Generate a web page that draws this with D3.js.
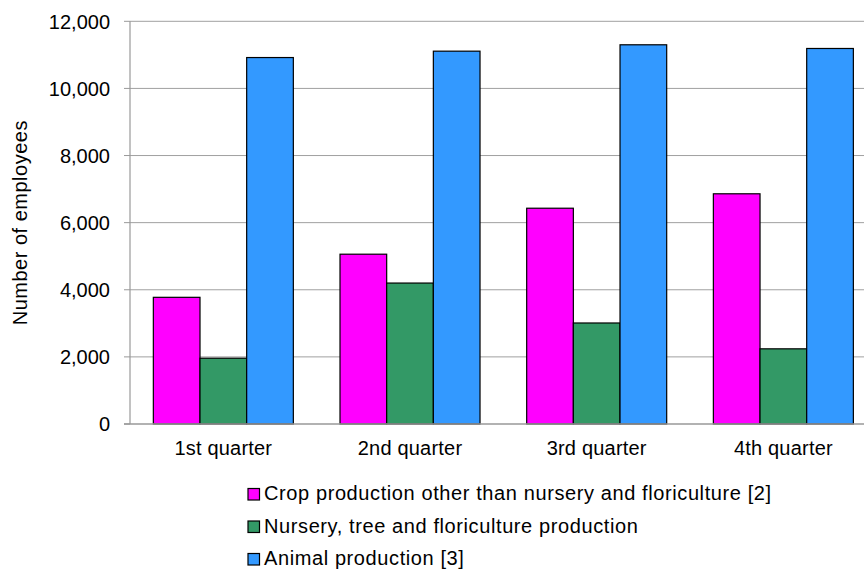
<!DOCTYPE html>
<html><head><meta charset="utf-8">
<script src="https://cdn.jsdelivr.net/npm/d3@7"></script>
<style>body{margin:0;background:#fff}svg{display:block;font-family:"Liberation Sans",Arial,sans-serif}</style>
</head><body>
<svg id="c" width="864" height="569"></svg>
<script>
const categories = ["1st quarter","2nd quarter","3rd quarter","4th quarter"];
const seriesNames = ["Crop production other than nursery and floriculture [2]","Nursery, tree and floriculture production","Animal production [3]"];
const cropValues = [3775, 5060, 6430, 6860];
const nurseryValues = [1960, 4200, 3010, 2240];
const animalValues = [10920, 11110, 11300, 11190];
const yTicks = [0,2000,4000,6000,8000,10000,12000];
const colors = ["#FF00FF","#339966","#3399FF"];

const series = [cropValues, nurseryValues, animalValues];
const svg = d3.select("#c");
const mLeft = 130, mTop = 21.3, mBottom = 424, mRight = 876.7;
const fs = 20;

const y = d3.scaleLinear().domain([0,12000]).range([mBottom, mTop]);
const x0 = d3.scaleBand().domain(categories).range([mLeft, mRight]).paddingInner(0.25).paddingOuter(0.125);
const x1 = d3.scaleBand().domain(d3.range(series.length)).range([0, x0.bandwidth()]);

// gridlines
svg.append("g").selectAll("line").data(yTicks.filter(d=>d>0)).join("line")
  .attr("x1", mLeft).attr("x2", 864).attr("y1", d=>y(d)).attr("y2", d=>y(d))
  .attr("stroke", "#a0a0a0").attr("stroke-width", 1);

// y ticks
svg.append("g").selectAll("line").data(yTicks).join("line")
  .attr("x1", mLeft-6).attr("x2", mLeft).attr("y1", d=>y(d)).attr("y2", d=>y(d))
  .attr("stroke", "#999").attr("stroke-width", 1);
svg.append("g").selectAll("text").data(yTicks).join("text")
  .attr("x", 110).attr("y", d=>y(d)).attr("dy", "0.36em")
  .attr("text-anchor", "end").attr("font-size", fs).attr("fill", "#000")
  .text(d=>d3.format(",")(d));

// bars
const groups = svg.append("g").selectAll("g").data(categories).join("g")
  .attr("transform", d=>`translate(${x0(d)},0)`);
groups.selectAll("rect").data((c,i)=>series.map((s,k)=>({k, v:s[i]}))).join("rect")
  .attr("x", d=>x1(d.k)).attr("width", x1.bandwidth())
  .attr("y", d=>y(d.v)).attr("height", d=>y(0)-y(d.v))
  .attr("fill", d=>colors[d.k]).attr("stroke", "#000").attr("stroke-width", 1.2);

// axes lines
svg.append("line").attr("x1", mLeft).attr("x2", mLeft).attr("y1", mTop).attr("y2", mBottom)
  .attr("stroke", "#999").attr("stroke-width", 1.2);
svg.append("line").attr("x1", mLeft-6).attr("x2", 864).attr("y1", mBottom).attr("y2", mBottom)
  .attr("stroke", "#999").attr("stroke-width", 1.5);

// x labels
svg.append("g").selectAll("text").data(categories).join("text")
  .attr("x", d=>x0(d)+x0.bandwidth()/2).attr("y", 455)
  .attr("text-anchor", "middle").attr("font-size", fs).attr("letter-spacing", 0.2).text(d=>d);

// y title
svg.append("text").attr("transform", `translate(27,${(mTop+mBottom)/2}) rotate(-90)`)
  .attr("text-anchor", "middle").attr("font-size", fs).attr("letter-spacing", 0.5).text("Number of employees");

// legend
const lg = svg.append("g").selectAll("g").data(seriesNames).join("g")
  .attr("transform", (d,i)=>`translate(248,${488.5 + i*32.5})`);
lg.append("rect").attr("width", 11.5).attr("height", 11.5)
  .attr("fill", (d,i)=>colors[i]).attr("stroke", "#000").attr("stroke-width", 1.2);
lg.append("text").attr("x", 16).attr("y", 11.5).attr("font-size", fs).attr("letter-spacing", 0.6).text(d=>d);
</script>
</body></html>
